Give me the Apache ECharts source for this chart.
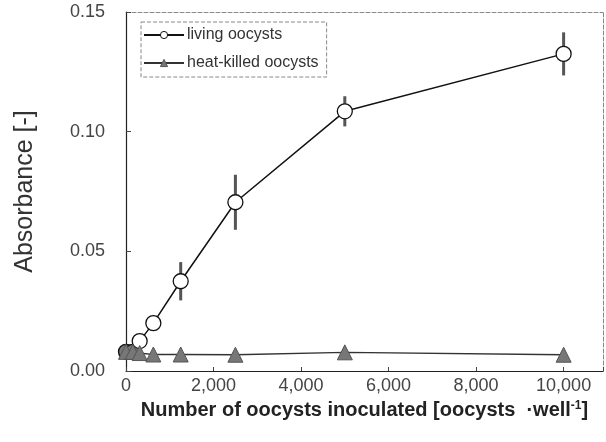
<!DOCTYPE html>
<html>
<head>
<meta charset="utf-8">
<script src="https://cdn.jsdelivr.net/npm/echarts@6/dist/echarts.min.js"></script>
<style>
html,body{margin:0;padding:0;background:#fff;}
#c{width:606px;height:442px;}
</style>
</head>
<body>
<div id="c"></div>
<script>
// Data
var xValues = [0, 156, 312.5, 625, 1250, 2500, 5000, 10000];
var livingValues = [0.008, 0.008, 0.0125, 0.020, 0.0375, 0.0705, 0.1085, 0.1325];
var livingErrors = [0, 0, 0, 0, 0.008, 0.0115, 0.0063, 0.009];
var killedValues = [0.008, 0.008, 0.0075, 0.0069, 0.0069, 0.0068, 0.0078, 0.0068];
var xTicks = [0, 2000, 4000, 6000, 8000, 10000];
var yTicks = [0, 0.05, 0.10, 0.15];

var livingData = xValues.map(function (x, i) { return [x, livingValues[i]]; });
var killedData = xValues.map(function (x, i) { return [x, killedValues[i]]; });
var errData = xValues.map(function (x, i) { return [x, livingValues[i] - livingErrors[i], livingValues[i] + livingErrors[i]]; })
  .filter(function (d) { return d[2] > d[1]; });

var chart = echarts.init(document.getElementById('c'), null, {renderer: 'canvas'});
var font = 'Liberation Sans, Arial, sans-serif';
var option = {
  animation: false,
  backgroundColor: '#fff',
  grid: {left: 126, top: 12, right: 3, bottom: 71, containLabel: false},
  legend: {
    left: 141, top: 22, orient: 'vertical',
    data: [
      {name: 'living oocysts', itemStyle: {color: '#fff', borderColor: '#111', borderWidth: 1}},
      {name: 'heat-killed oocysts', itemStyle: {color: '#777', borderColor: '#555', borderWidth: 1}}
    ],
    borderColor: '#888', borderWidth: 1, borderType: 'dashed',
    padding: [5, 8, 6, 2],
    itemWidth: 40, itemHeight: 9, itemGap: 12,
    textStyle: {fontFamily: font, fontSize: 16, color: '#333', padding: [0, 0, 0, -2]}
  },
  xAxis: [{
    type: 'value', min: 0, max: 10900, interval: 2000,
    axisLine: {show: true, onZero: false, lineStyle: {color: '#222', width: 1.2}},
    axisTick: {show: true, inside: true, length: 4, lineStyle: {color: '#444'}},
    splitLine: {show: false},
    axisLabel: {
      fontFamily: font, fontSize: 18, color: '#444', margin: 6,
      formatter: function (v) { return xTicks.indexOf(v) >= 0 ? v.toLocaleString('en-US') : ''; }
    },
    name: '{t|Number of oocysts inoculated [oocysts  ·well}{s|-1}{t|]}',
    nameLocation: 'middle', nameGap: 29,
    nameTextStyle: {
      rich: {
        t: {fontFamily: font, fontSize: 20, fontWeight: 'bold', color: '#222'},
        s: {fontFamily: font, fontSize: 12, fontWeight: 'bold', color: '#222', verticalAlign: 'top', padding: [0, 0, 9, 0]}
      }
    }
  }, {
    type: 'value', position: 'top', min: 0, max: 10900,
    axisLine: {show: true, onZero: false, lineStyle: {color: '#888', type: 'dashed', width: 1}},
    axisTick: {show: false}, axisLabel: {show: false}, splitLine: {show: false}
  }],
  yAxis: [{
    type: 'value', min: 0, max: 0.15, interval: 0.05,
    axisLine: {show: true, onZero: false, lineStyle: {color: '#222', width: 1.2}},
    axisTick: {show: true, inside: true, length: 5, lineStyle: {color: '#444'}},
    splitLine: {show: false},
    axisLabel: {
      fontFamily: font, fontSize: 18, color: '#444', margin: 21,
      formatter: function (v) { return v.toFixed(2); }
    },
    name: 'Absorbance [-]', nameLocation: 'middle', nameGap: 88, nameRotate: 90,
    nameTextStyle: {fontFamily: font, fontSize: 25, color: '#333'}
  }, {
    type: 'value', position: 'right', min: 0, max: 0.15,
    axisLine: {show: true, onZero: false, lineStyle: {color: '#888', type: 'dashed', width: 1}},
    axisTick: {show: false}, axisLabel: {show: false}, splitLine: {show: false}
  }],
  series: [{
    name: 'errbars', type: 'custom', xAxisIndex: 0, yAxisIndex: 0, z: 1,
    data: errData,
    renderItem: function (params, api) {
      var lo = api.coord([api.value(0), api.value(1)]);
      var hi = api.coord([api.value(0), api.value(2)]);
      return {type: 'line', shape: {x1: lo[0], y1: lo[1], x2: hi[0], y2: hi[1]},
        style: {stroke: '#555', lineWidth: 3}};
    }
  }, {
    name: 'living oocysts', type: 'line', z: 3,
    data: livingData,
    symbol: 'circle', symbolSize: 15,
    lineStyle: {color: '#111', width: 1.5},
    itemStyle: {
      color: function (p) { return p.dataIndex < 2 ? '#777' : '#fff'; },
      borderColor: '#111', borderWidth: 1.3
    }
  }, {
    name: 'heat-killed oocysts', type: 'line', z: 4,
    data: killedData,
    symbol: 'triangle', symbolSize: 15,
    lineStyle: {color: '#333', width: 1.3},
    itemStyle: {color: '#777', borderColor: '#555', borderWidth: 1}
  }]
};
chart.setOption(option);
</script>
</body>
</html>
